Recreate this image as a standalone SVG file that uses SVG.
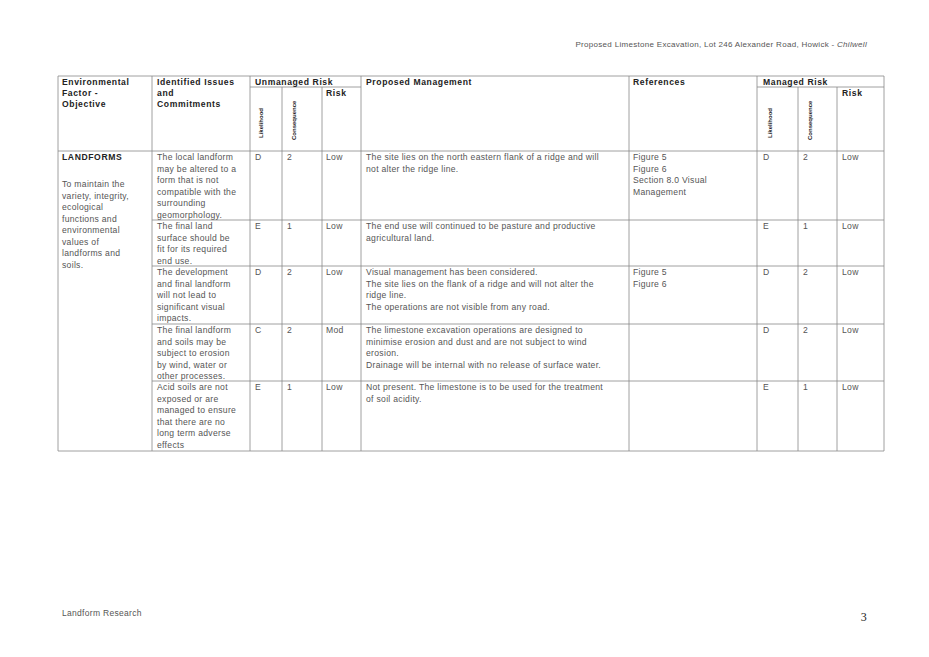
<svg xmlns="http://www.w3.org/2000/svg" width="929" height="657" viewBox="0 0 929 657">
<style>
text{font-family:"Liberation Sans",Arial,sans-serif;font-size:8.6px;fill:#555;letter-spacing:0.3px}
.h{font-weight:bold;fill:#222;letter-spacing:0.6px}
.r{font-weight:bold;fill:#222;font-size:6px;letter-spacing:0}
.g line{stroke:#888;stroke-width:0.8}
</style>
<rect width="929" height="657" fill="#fff"/>
<text x="867" y="47" text-anchor="end" style="font-size:8px">Proposed Limestone Excavation, Lot 246 Alexander Road, Howick - <tspan font-style="italic">Chilwell</tspan></text>
<g class="g" id="grid">
<line x1="58" y1="76" x2="884" y2="76"/>
<line x1="250" y1="87" x2="361" y2="87"/>
<line x1="757" y1="87" x2="884" y2="87"/>
<line x1="58" y1="151" x2="884" y2="151"/>
<line x1="152" y1="220" x2="884" y2="220"/>
<line x1="152" y1="266" x2="884" y2="266"/>
<line x1="152" y1="324" x2="884" y2="324"/>
<line x1="152" y1="381" x2="884" y2="381"/>
<line x1="58" y1="451" x2="884" y2="451"/>
<line x1="58" y1="76" x2="58" y2="451"/>
<line x1="152" y1="76" x2="152" y2="451"/>
<line x1="250" y1="76" x2="250" y2="451"/>
<line x1="282" y1="87" x2="282" y2="451"/>
<line x1="322" y1="87" x2="322" y2="451"/>
<line x1="361" y1="76" x2="361" y2="451"/>
<line x1="629" y1="76" x2="629" y2="451"/>
<line x1="757" y1="76" x2="757" y2="451"/>
<line x1="798" y1="87" x2="798" y2="451"/>
<line x1="837" y1="87" x2="837" y2="451"/>
<line x1="884" y1="76" x2="884" y2="451"/>
</g>
<g id="header">
<text class="h" x="62" y="85">Environmental</text>
<text class="h" x="62" y="96">Factor -</text>
<text class="h" x="62" y="107">Objective</text>
<text class="h" x="157" y="85">Identified Issues</text>
<text class="h" x="157" y="96">and</text>
<text class="h" x="157" y="107">Commitments</text>
<text class="h" x="255" y="85">Unmanaged Risk</text>
<text class="h" x="326" y="96">Risk</text>
<text class="h" x="366" y="85">Proposed Management</text>
<text class="h" x="633" y="85">References</text>
<text class="h" x="763" y="85">Managed Risk</text>
<text class="h" x="842" y="96">Risk</text>
<text class="r" transform="translate(263,138) rotate(-90)">Likelihood</text>
<text class="r" transform="translate(296,140) rotate(-90)">Consequence</text>
<text class="r" transform="translate(772,138) rotate(-90)">Likelihood</text>
<text class="r" transform="translate(812,140) rotate(-90)">Consequence</text>
</g>
<g id="col1">
<text class="h" x="62" y="160">LANDFORMS</text>
<text x="62" y="187">To maintain the</text>
<text x="62" y="198.5">variety, integrity,</text>
<text x="62" y="210">ecological</text>
<text x="62" y="221.5">functions and</text>
<text x="62" y="233">environmental</text>
<text x="62" y="244.5">values of</text>
<text x="62" y="256">landforms and</text>
<text x="62" y="267.5">soils.</text>
</g>
<g id="row1">
<text x="157" y="160">The local landform</text>
<text x="157" y="171.5">may be altered to a</text>
<text x="157" y="183">form that is not</text>
<text x="157" y="194.5">compatible with the</text>
<text x="157" y="206">surrounding</text>
<text x="157" y="217.5">geomorphology.</text>
<text x="255" y="160">D</text><text x="287" y="160">2</text><text x="326" y="160">Low</text>
<text x="366" y="160">The site lies on the north eastern flank of a ridge and will</text>
<text x="366" y="171.5">not alter the ridge line.</text>
<text x="633" y="160">Figure 5</text>
<text x="633" y="171.5">Figure 6</text>
<text x="633" y="183">Section 8.0 Visual</text>
<text x="633" y="194.5">Management</text>
<text x="763" y="160">D</text><text x="803" y="160">2</text><text x="842" y="160">Low</text>
</g>
<g id="row2">
<text x="157" y="229">The final land</text>
<text x="157" y="240.5">surface should be</text>
<text x="157" y="252">fit for its required</text>
<text x="157" y="263.5">end use.</text>
<text x="255" y="229">E</text><text x="287" y="229">1</text><text x="326" y="229">Low</text>
<text x="366" y="229">The end use will continued to be pasture and productive</text>
<text x="366" y="240.5">agricultural land.</text>
<text x="763" y="229">E</text><text x="803" y="229">1</text><text x="842" y="229">Low</text>
</g>
<g id="row3">
<text x="157" y="275">The development</text>
<text x="157" y="286.5">and final landform</text>
<text x="157" y="298">will not lead to</text>
<text x="157" y="309.5">significant visual</text>
<text x="157" y="321">impacts.</text>
<text x="255" y="275">D</text><text x="287" y="275">2</text><text x="326" y="275">Low</text>
<text x="366" y="275">Visual management has been considered.</text>
<text x="366" y="286.5">The site lies on the flank of a ridge and will not alter the</text>
<text x="366" y="298">ridge line.</text>
<text x="366" y="309.5">The operations are not visible from any road.</text>
<text x="633" y="275">Figure 5</text>
<text x="633" y="286.5">Figure 6</text>
<text x="763" y="275">D</text><text x="803" y="275">2</text><text x="842" y="275">Low</text>
</g>
<g id="row4">
<text x="157" y="333">The final landform</text>
<text x="157" y="344.5">and soils may be</text>
<text x="157" y="356">subject to erosion</text>
<text x="157" y="367.5">by wind, water or</text>
<text x="157" y="379">other processes.</text>
<text x="255" y="333">C</text><text x="287" y="333">2</text><text x="326" y="333">Mod</text>
<text x="366" y="333">The limestone excavation operations are designed to</text>
<text x="366" y="344.5">minimise erosion and dust and are not subject to wind</text>
<text x="366" y="356">erosion.</text>
<text x="366" y="367.5">Drainage will be internal with no release of surface water.</text>
<text x="763" y="333">D</text><text x="803" y="333">2</text><text x="842" y="333">Low</text>
</g>
<g id="row5">
<text x="157" y="390">Acid soils are not</text>
<text x="157" y="401.5">exposed or are</text>
<text x="157" y="413">managed to ensure</text>
<text x="157" y="424.5">that there are no</text>
<text x="157" y="436">long term adverse</text>
<text x="157" y="447.5">effects</text>
<text x="255" y="390">E</text><text x="287" y="390">1</text><text x="326" y="390">Low</text>
<text x="366" y="390">Not present. The limestone is to be used for the treatment</text>
<text x="366" y="401.5">of soil acidity.</text>
<text x="763" y="390">E</text><text x="803" y="390">1</text><text x="842" y="390">Low</text>
</g>
<text x="62" y="616" style="font-size:8.5px">Landform Research</text>
<text x="867" y="621" text-anchor="end" style="font-family:'Liberation Serif',serif;font-size:12px;fill:#222">3</text>
</svg>
